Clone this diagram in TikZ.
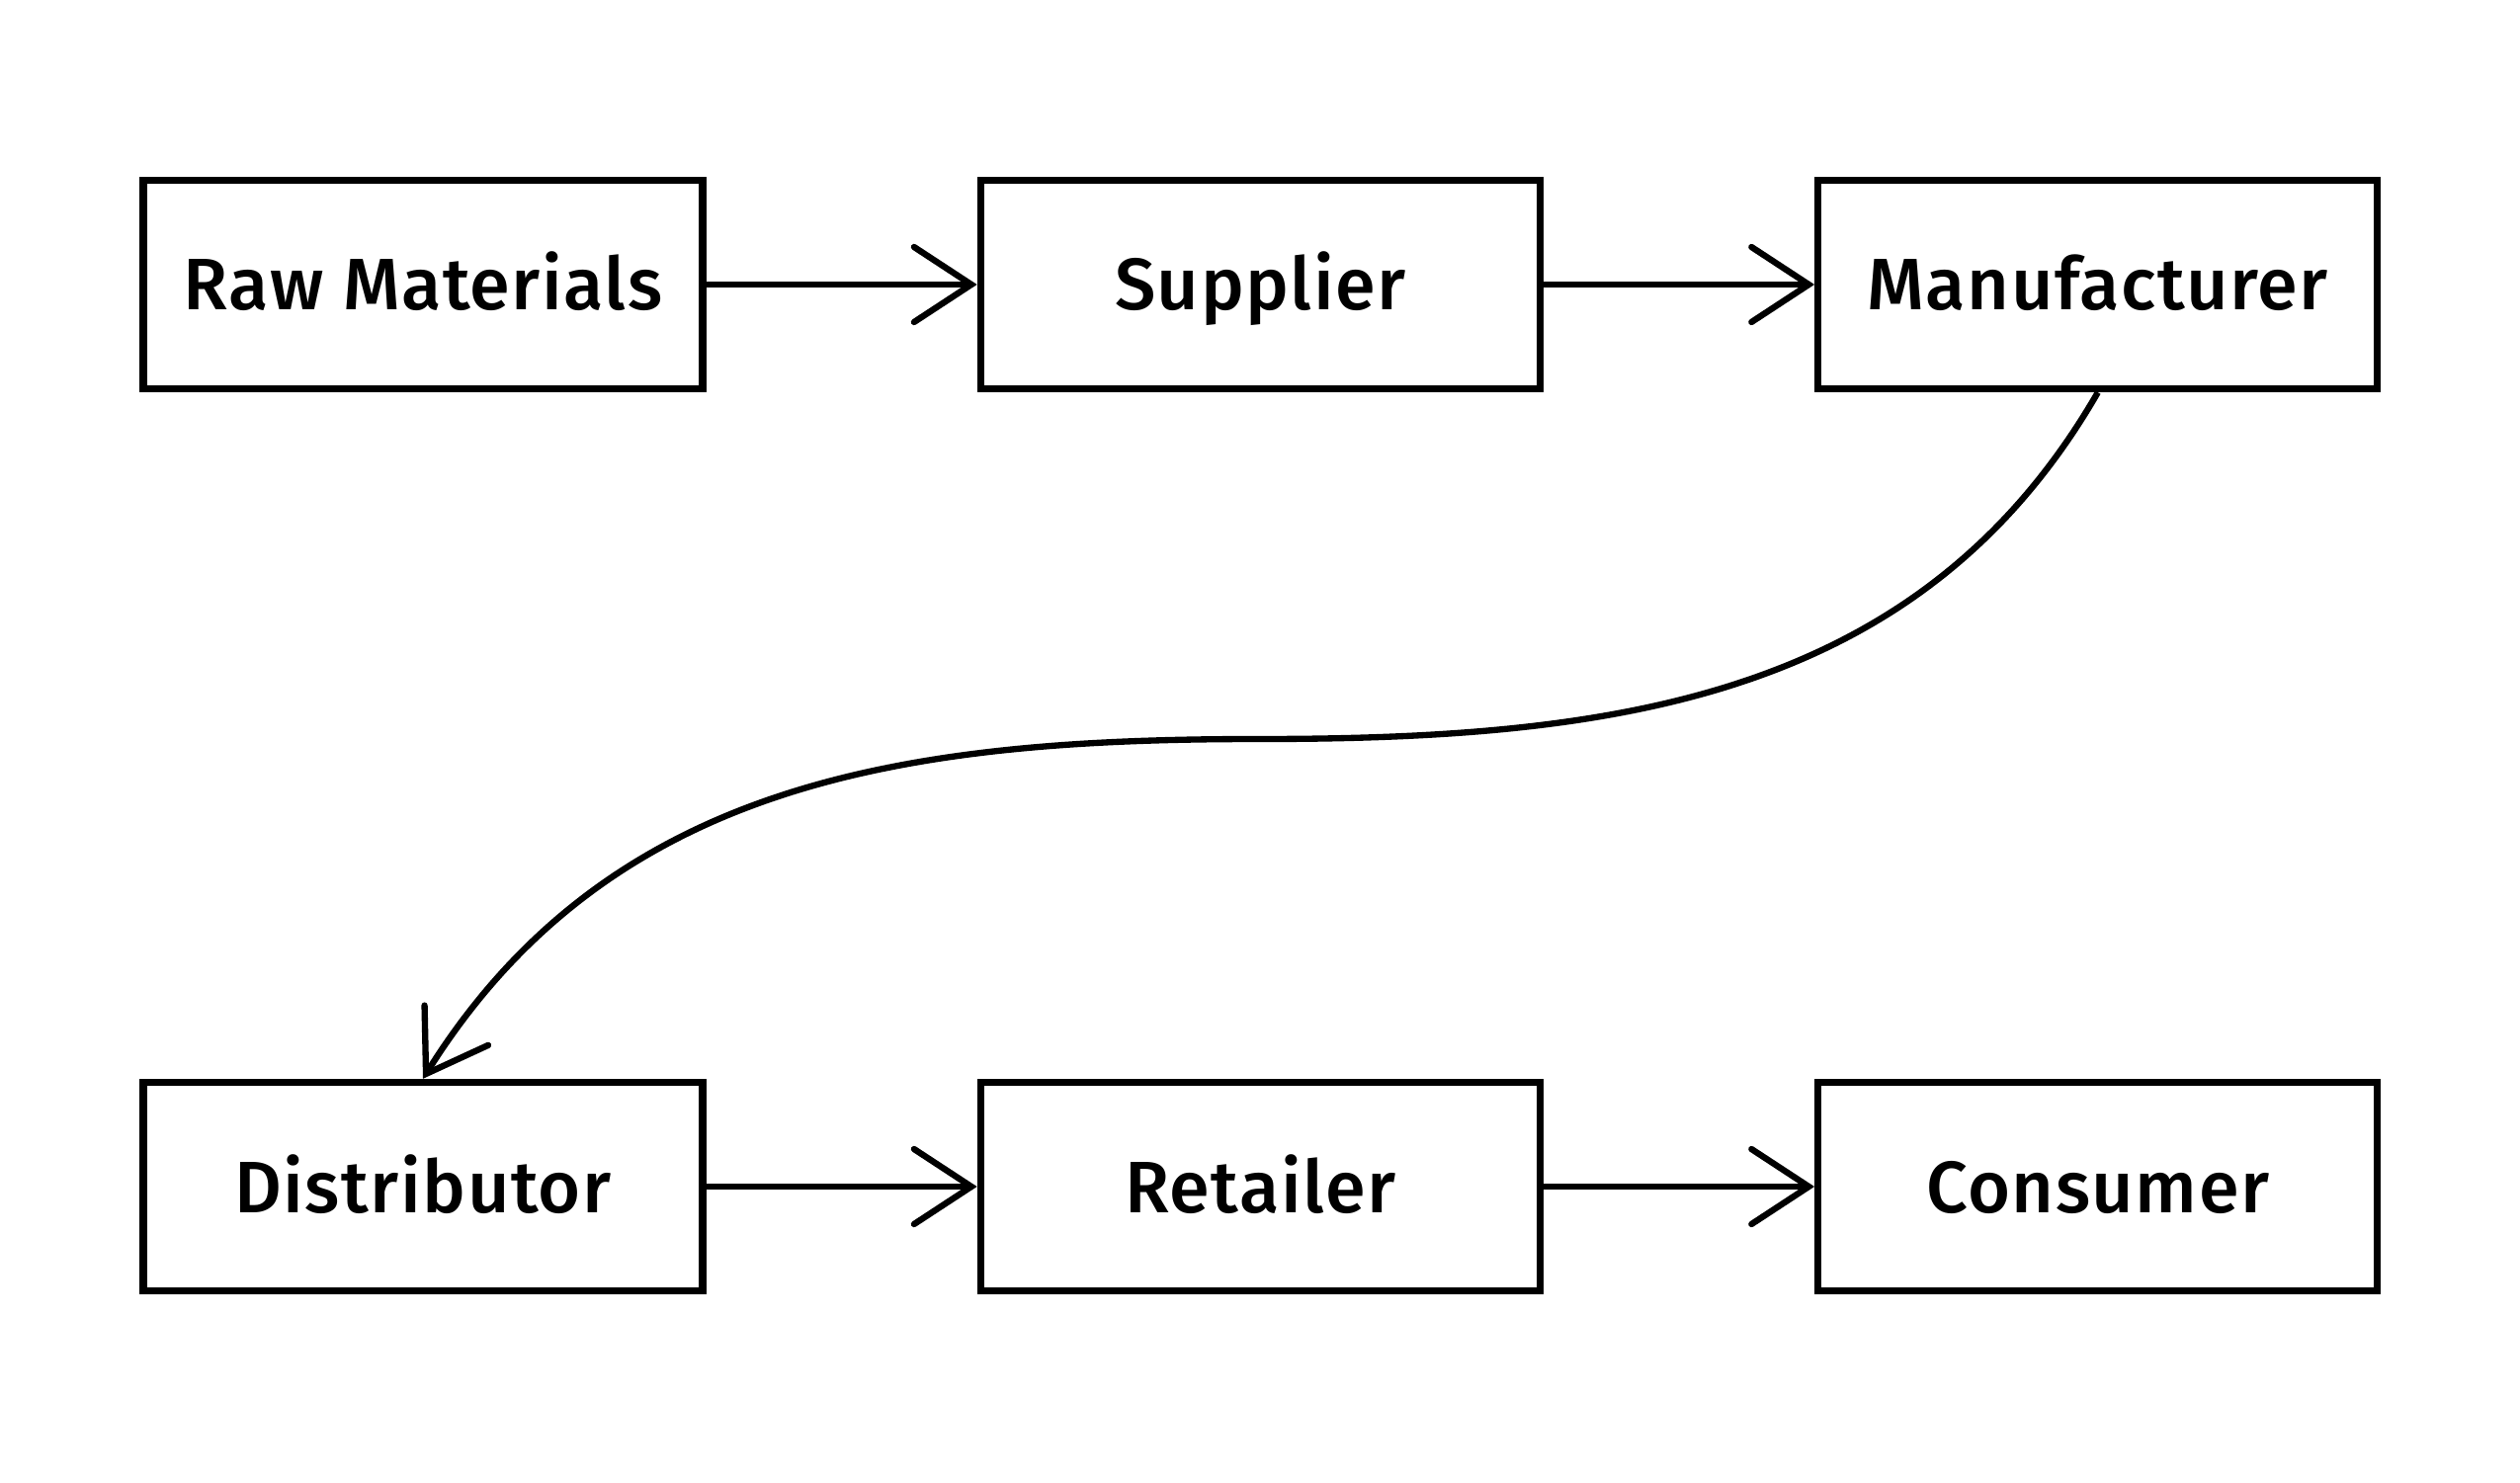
\documentclass[tikz,border=0pt]{standalone}
\usepackage{fontspec}
\setmainfont{Fira Sans}[UprightFont=* Medium,LetterSpace=2]
\usetikzlibrary{positioning,arrows.meta}
\tikzset{
  stage/.style={draw,line width=2.1pt,minimum width=5.66cm,minimum height=2.11cm,
    font=\fontsize{21}{25}\selectfont,inner sep=0pt,text height=0.57cm,text depth=0.05cm},
  flow/.style={line width=1.8pt,-{Straight Barb[length=5.8mm,width=7.6mm,line cap=round]}}
}
\begin{document}
\begin{tikzpicture}
\useasboundingbox (0,0) rectangle (25.5,15);
% top row
\node [stage] (raw) at (4.28,12.12) {Raw Materials};
\node [stage,right=2.74cm of raw] (sup) {Supplier};
\node [stage,right=2.74cm of sup] (man) {Manufacturer};
% bottom row
\node [stage] (dis) at (4.28,2.99) {Distributor};
\node [stage,right=2.74cm of dis] (ret) {Retailer};
\node [stage,right=2.74cm of ret] (con) {Consumer};
\coordinate (mid) at (12.73,7.52);
\draw [flow] (raw) -- (sup);
\draw [flow] (sup) -- (man);
\draw [flow] (man.south) to[out=-120,in=0] (mid) to[out=180,in=58] (dis.north);
\draw [flow] (dis) -- (ret);
\draw [flow] (ret) -- (con);
\end{tikzpicture}
\end{document}
